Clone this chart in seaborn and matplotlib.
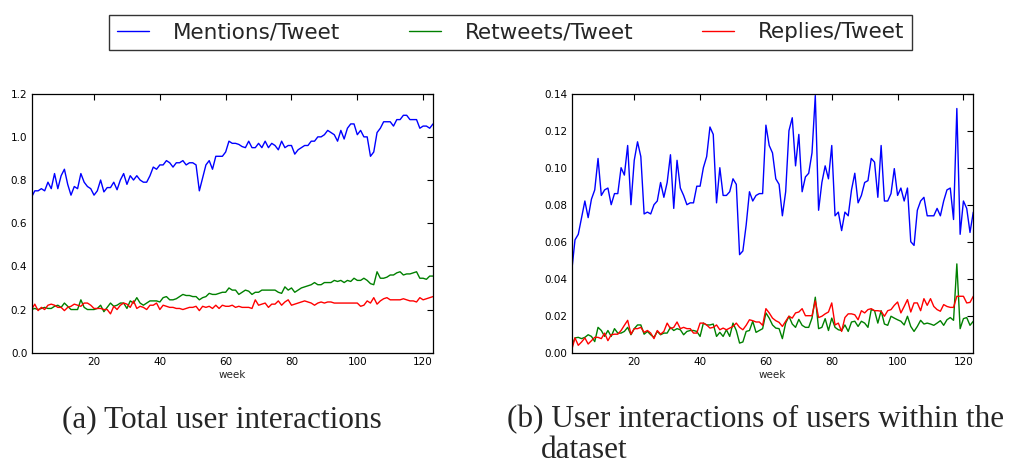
import numpy as np
import pandas as pd
import matplotlib
matplotlib.use("Agg")
import matplotlib.pyplot as plt
import seaborn as sns

series_names = ["Mentions/Tweet", "Retweets/Tweet", "Replies/Tweet"]
series_colors = ["#0000ff", "#008000", "#ff0000"]

# ---- (a) Total user interactions, weeks 1..123 ----
total_mentions = [
    0.72, 0.75, 0.75, 0.76, 0.75, 0.79, 0.76, 0.83, 0.76, 0.82,
    0.85, 0.78, 0.73, 0.77, 0.76, 0.83, 0.79, 0.77, 0.76, 0.73,
    0.75, 0.80, 0.745, 0.765, 0.765, 0.79, 0.755, 0.80, 0.83, 0.78,
    0.82, 0.80, 0.82, 0.80, 0.79, 0.79, 0.82, 0.86, 0.85, 0.87,
    0.87, 0.89, 0.88, 0.86, 0.88, 0.88, 0.89, 0.87, 0.88, 0.88,
    0.87, 0.75, 0.81, 0.87, 0.89, 0.85, 0.91, 0.91, 0.91, 0.93,
    0.98, 0.97,
    0.97, 0.965, 0.955, 0.95, 0.98, 0.95, 0.95, 0.97, 0.95, 0.98,
    0.95, 0.97, 0.96, 0.94, 0.98, 0.95, 0.96, 0.96, 0.92, 0.94,
    0.95, 0.96, 0.96, 0.98, 0.98, 1.0, 1.0, 1.01, 1.03, 1.02,
    1.01, 0.98, 1.03, 0.99, 1.04, 1.06, 1.06, 1.01, 1.03, 1.0,
    1.0, 0.91, 0.93, 1.02, 1.04, 1.07, 1.07, 1.07, 1.05, 1.08,
    1.08, 1.10, 1.10, 1.08, 1.08, 1.08, 1.04, 1.05, 1.05, 1.04,
    1.06,
]
total_retweets = [
    0.20, 0.205, 0.20, 0.205, 0.21, 0.205, 0.205, 0.215, 0.22, 0.21,
    0.23, 0.215, 0.20, 0.20, 0.20, 0.245, 0.21, 0.20, 0.20, 0.20,
    0.205, 0.22, 0.19, 0.21, 0.23, 0.215, 0.22, 0.23, 0.23, 0.205,
    0.24, 0.23, 0.255, 0.23, 0.22, 0.23, 0.24, 0.24, 0.24, 0.235,
    0.255, 0.26, 0.245, 0.245, 0.25, 0.26, 0.27, 0.265, 0.265, 0.26,
    0.26, 0.245, 0.255, 0.26, 0.275, 0.27, 0.27, 0.275, 0.28, 0.28,
    0.30, 0.29,
    0.29, 0.27, 0.28, 0.29, 0.285, 0.27, 0.28, 0.28, 0.29, 0.29,
    0.29, 0.29, 0.29, 0.28, 0.275, 0.305, 0.29, 0.30, 0.28, 0.29,
    0.30, 0.305, 0.31, 0.315, 0.325, 0.315, 0.315, 0.325, 0.325, 0.325,
    0.335, 0.33, 0.335, 0.325, 0.335, 0.33, 0.345, 0.335, 0.335, 0.345,
    0.335, 0.32, 0.315, 0.375, 0.345, 0.345, 0.35, 0.36, 0.36, 0.37,
    0.375, 0.36, 0.365, 0.365, 0.37, 0.375, 0.345, 0.345, 0.34, 0.355,
    0.355,
]
total_replies = [
    0.20, 0.225, 0.195, 0.21, 0.20, 0.22, 0.225, 0.22, 0.21, 0.21,
    0.195, 0.21, 0.215, 0.225, 0.22, 0.215, 0.23, 0.23, 0.22, 0.205,
    0.205, 0.205, 0.20, 0.20, 0.18, 0.215, 0.20, 0.22, 0.23, 0.225,
    0.21, 0.24, 0.205, 0.215, 0.21, 0.20, 0.22, 0.22, 0.23, 0.20,
    0.22, 0.215, 0.21, 0.21, 0.205, 0.205, 0.20, 0.205, 0.21, 0.21,
    0.215, 0.195, 0.215, 0.21, 0.215, 0.205, 0.22, 0.205, 0.22, 0.215,
    0.215, 0.22,
    0.21, 0.215, 0.21, 0.21, 0.21, 0.205, 0.245, 0.22, 0.225, 0.23,
    0.21, 0.225, 0.225, 0.24, 0.22, 0.235, 0.245, 0.22, 0.225, 0.23,
    0.235, 0.24, 0.235, 0.23, 0.22, 0.23, 0.235, 0.23, 0.235, 0.235,
    0.23, 0.23, 0.23, 0.23, 0.23, 0.23, 0.23, 0.23, 0.215, 0.22,
    0.24, 0.23, 0.255, 0.225, 0.24, 0.25, 0.255, 0.245, 0.245, 0.245,
    0.245, 0.25, 0.245, 0.24, 0.24, 0.235, 0.255, 0.245, 0.25, 0.255,
    0.26,
]

# ---- (b) Interactions of users within the dataset, weeks 1..123 ----
inner_mentions = [
    0.044, 0.061, 0.064, 0.073, 0.082, 0.073, 0.083, 0.088, 0.105, 0.085,
    0.088, 0.089, 0.080, 0.086, 0.086, 0.100, 0.096, 0.112, 0.080, 0.104,
    0.114, 0.106, 0.075, 0.076, 0.075, 0.080, 0.082, 0.092, 0.084, 0.092,
    0.107, 0.078, 0.104, 0.089, 0.085, 0.080, 0.081, 0.081, 0.090, 0.090,
    0.100, 0.106, 0.122, 0.118, 0.081, 0.100, 0.085, 0.085, 0.087, 0.094,
    0.091, 0.053, 0.055, 0.069, 0.087, 0.082, 0.085, 0.086, 0.086, 0.123,
    0.112,
    0.108, 0.094, 0.091, 0.074, 0.087, 0.120, 0.127, 0.101, 0.118, 0.087,
    0.095, 0.097, 0.108, 0.139, 0.077, 0.092, 0.101, 0.094, 0.112, 0.074,
    0.076, 0.066, 0.076, 0.074, 0.088, 0.097, 0.081, 0.085, 0.092, 0.093,
    0.105, 0.103, 0.084, 0.112, 0.082, 0.082, 0.086, 0.0995, 0.085, 0.089,
    0.082, 0.089, 0.060, 0.058, 0.077, 0.082, 0.084, 0.074, 0.074, 0.074,
    0.078, 0.074, 0.082, 0.088, 0.089, 0.072, 0.132, 0.064, 0.082, 0.078,
    0.065, 0.076,
]
inner_retweets = [
    0.0034, 0.008, 0.0083, 0.0076, 0.0083, 0.0097, 0.0088, 0.006, 0.0137, 0.012,
    0.0088, 0.012, 0.0088, 0.013, 0.0106, 0.0106, 0.0115, 0.0137, 0.0097, 0.013,
    0.015, 0.015, 0.010, 0.0115, 0.0097, 0.0083, 0.0115, 0.0097, 0.0106, 0.0106,
    0.0137, 0.012, 0.013, 0.0124, 0.0097, 0.0115, 0.012, 0.012, 0.0115, 0.0088,
    0.016, 0.015, 0.015, 0.0155, 0.0088, 0.011, 0.0088, 0.0124, 0.0088, 0.016,
    0.012, 0.0052, 0.0058, 0.0115, 0.012, 0.017, 0.011, 0.012, 0.013, 0.0215,
    0.0187, 0.015,
    0.0133, 0.013, 0.0076, 0.016, 0.0197, 0.0155, 0.0137, 0.018, 0.0148, 0.0137,
    0.0137, 0.0187, 0.030, 0.013, 0.0137, 0.0184, 0.012, 0.0187, 0.0137, 0.0124,
    0.012, 0.015, 0.0115, 0.0166, 0.017, 0.0142, 0.017, 0.016, 0.0137, 0.0233,
    0.0227, 0.016, 0.0227, 0.0155, 0.0148, 0.0197, 0.0187, 0.0178, 0.017, 0.015,
    0.0197, 0.0142, 0.0115, 0.0142, 0.0175, 0.0155, 0.016, 0.0155, 0.0148, 0.016,
    0.0173, 0.0148, 0.0178, 0.019, 0.0175, 0.048, 0.013, 0.0184, 0.019, 0.0148,
    0.017,
]
inner_replies = [
    0.0015, 0.008, 0.004, 0.0058, 0.008, 0.0047, 0.0065, 0.0083, 0.0083, 0.0076,
    0.0106, 0.0065, 0.0097, 0.010, 0.010, 0.012, 0.0148, 0.0175, 0.010, 0.013,
    0.013, 0.0137, 0.011, 0.012, 0.0106, 0.0076, 0.012, 0.010, 0.0115, 0.016,
    0.013, 0.0137, 0.0166, 0.013, 0.0137, 0.013, 0.013, 0.0106, 0.0106, 0.016,
    0.016, 0.015, 0.0133, 0.0137, 0.015, 0.0124, 0.0133, 0.0124, 0.0133, 0.0142,
    0.016, 0.0137, 0.0124, 0.0148, 0.0178, 0.0173, 0.0166, 0.0166, 0.0148, 0.0238,
    0.0215, 0.0187,
    0.0173, 0.0164, 0.0142, 0.017, 0.0197, 0.0187, 0.0215, 0.022, 0.0238, 0.020,
    0.020, 0.020, 0.028, 0.019, 0.0197, 0.021, 0.022, 0.0269, 0.015, 0.016,
    0.0115, 0.019, 0.021, 0.021, 0.0205, 0.0178, 0.0227, 0.0215, 0.0233, 0.0238,
    0.0227, 0.0227, 0.0224, 0.0197, 0.0227, 0.0233, 0.0256, 0.0274, 0.0215, 0.025,
    0.0287, 0.022, 0.0269, 0.0269, 0.0227, 0.0292, 0.0256, 0.0292, 0.025, 0.0233,
    0.0224, 0.026, 0.025, 0.0245, 0.0245, 0.0305, 0.0305, 0.0305, 0.0269, 0.0272,
    0.0305,
]

left_yticks = [0.0, 0.2, 0.4, 0.6, 0.8, 1.0, 1.2]
right_yticks = [0.00, 0.02, 0.04, 0.06, 0.08, 0.10, 0.12, 0.14]
xticks = [20, 40, 60, 80, 100, 120]
captions = ["(a) Total user interactions",
            "(b) User interactions of users within the", "dataset"]

sns.set_style("white")
plt.rcParams["font.family"] = ["DejaVu Sans"]

fig = plt.figure(figsize=(10.27, 4.66), dpi=100)
fig.patch.set_facecolor("white")
W, H = 1027.0, 466.0
axL = fig.add_axes([31.5 / W, 1 - 352.7 / H, 401.5 / W, 259.0 / H])
axR = fig.add_axes([571.7 / W, 1 - 352.7 / H, 401.6 / W, 259.0 / H])


def make_frame(vals):
    frames = []
    for name, v in zip(series_names, vals):
        frames.append(pd.DataFrame({"week": np.arange(1, len(v) + 1),
                                    "value": v, "series": name}))
    return pd.concat(frames, ignore_index=True)


def style_axis(ax, yticks, fmt):
    ax.set_xlim(1, 123)
    ax.set_ylim(yticks[0], yticks[-1])
    ax.set_xticks(xticks)
    ax.set_yticks(yticks)
    ax.set_yticklabels([fmt.format(t) for t in yticks])
    ax.tick_params(direction="in", top=True, right=True, length=4,
                   width=0.8, labelsize=7.5, colors="black", pad=3)
    for s in ax.spines.values():
        s.set_color("black")
        s.set_linewidth(0.9)
        s.set_visible(True)
    ax.set_xlabel("week", fontsize=7.5, labelpad=2.5)
    ax.set_ylabel("")


pal = dict(zip(series_names, series_colors))
dfL = make_frame([total_mentions, total_retweets, total_replies])
dfR = make_frame([inner_mentions, inner_retweets, inner_replies])
sns.lineplot(data=dfL, x="week", y="value", hue="series", palette=pal,
             linewidth=1.0, ax=axL, legend=False)
sns.lineplot(data=dfR, x="week", y="value", hue="series", palette=pal,
             linewidth=1.0, ax=axR, legend=False)
style_axis(axL, left_yticks, "{:.1f}")
style_axis(axR, right_yticks, "{:.2f}")

handles = [matplotlib.lines.Line2D([], [], color=c, lw=1.0) for c in series_colors]
leg = fig.legend(handles, series_names, loc="lower left",
                 bbox_to_anchor=(109 / W, 1 - 50 / H, 803 / W, 37 / H),
                 ncol=3, mode="expand", frameon=True, fancybox=False,
                 borderaxespad=0, borderpad=0.35, handlelength=1.5,
                 handletextpad=1.1,
                 prop={"family": "DejaVu Sans", "size": 15.5})
leg.get_frame().set_edgecolor("black")
leg.get_frame().set_linewidth(1.0)

cap_font = {"family": "Liberation Serif", "size": 22.5}
fig.text(62 / W, 1 - 427 / H, captions[0], ha="left", va="baseline", **cap_font)
fig.text(507 / W, 1 - 427 / H, captions[1], ha="left", va="baseline", **cap_font)
fig.text(541 / W, 1 - 458 / H, captions[2], ha="left", va="baseline", **cap_font)

fig.savefig("out.png", dpi=100, facecolor="white")
